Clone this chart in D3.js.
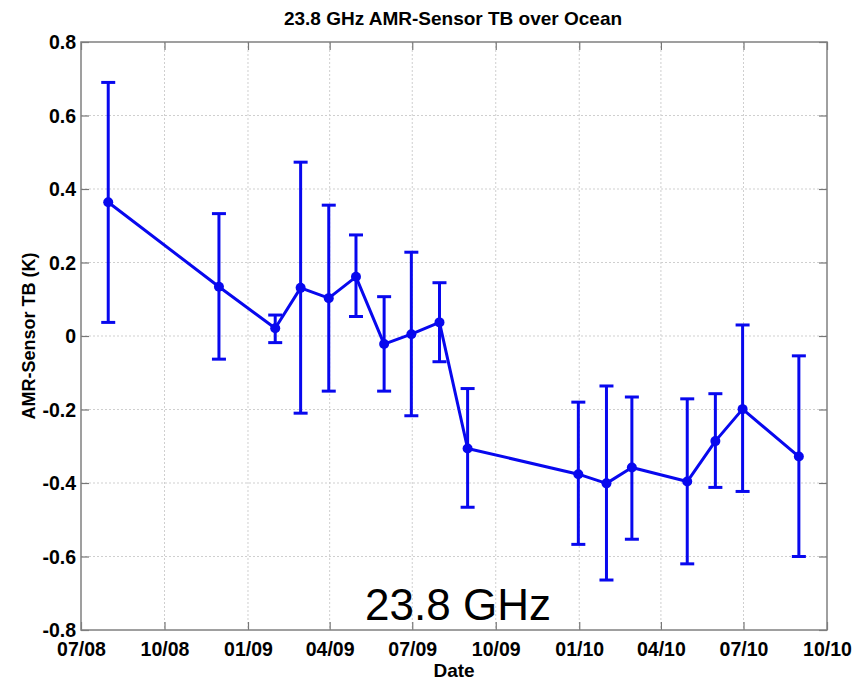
<!DOCTYPE html>
<html><head><meta charset="utf-8">
<script src="https://cdn.jsdelivr.net/npm/d3@7"></script>
<style>body{margin:0;background:#fff}svg{display:block;font-family:"Liberation Sans",Arial,Helvetica,sans-serif}</style>
</head><body>
<svg id="chart" width="852" height="683"></svg>
<script>
const dates = ["2008-07-31","2008-11-30","2009-01-31","2009-02-28","2009-03-31","2009-04-30","2009-05-31","2009-06-30","2009-07-31","2009-08-31","2009-12-31","2010-01-31","2010-02-28","2010-04-30","2010-05-31","2010-06-30","2010-08-31"];
const meanTB = [0.364,0.134,0.021,0.131,0.103,0.161,-0.022,0.005,0.037,-0.306,-0.376,-0.401,-0.358,-0.396,-0.286,-0.199,-0.328];
const upperTB = [0.690,0.333,0.057,0.473,0.356,0.275,0.107,0.228,0.145,-0.143,-0.180,-0.136,-0.166,-0.171,-0.157,0.030,-0.054];
const lowerTB = [0.037,-0.063,-0.018,-0.210,-0.150,0.053,-0.150,-0.217,-0.070,-0.466,-0.567,-0.664,-0.553,-0.620,-0.412,-0.423,-0.600];
const xTickDates = ["2008-07-01","2008-10-01","2009-01-01","2009-04-01","2009-07-01","2009-10-01","2010-01-01","2010-04-01","2010-07-01","2010-10-01"];
const yTicks = [-0.8,-0.6,-0.4,-0.2,0,0.2,0.4,0.6,0.8];
const yTickLabels = ["-0.8","-0.6","-0.4","-0.2","0","0.2","0.4","0.6","0.8"];
const titleText = "23.8 GHz AMR-Sensor TB over Ocean";
const xLabel = "Date";
const yLabel = "AMR-Sensor TB (K)";
const annotation = "23.8 GHz";

const parse = d3.utcParse("%Y-%m-%d");
const fmt = d3.utcFormat("%m/%y");
const data = dates.map((d,i)=>({t:parse(d), m:meanTB[i], hi:upperTB[i], lo:lowerTB[i]}));
const xt = xTickDates.map(parse);

const L=81, R=827, T=42, B=630;
const svg = d3.select("#chart");
const x = d3.scaleUtc().domain([xt[0], xt[xt.length-1]]).range([L,R]);
const y = d3.scaleLinear().domain([-0.8,0.8]).range([B,T]);

// grid
const g = svg.append("g");
g.selectAll(".vg").data(xt.slice(1,-1)).join("line")
  .attr("x1",d=>x(d)).attr("x2",d=>x(d)).attr("y1",T).attr("y2",B)
  .attr("stroke","#cfcfcf").attr("stroke-width",1).attr("stroke-dasharray","2,2");
g.selectAll(".hg").data(yTicks.slice(1,-1)).join("line")
  .attr("y1",d=>y(d)).attr("y2",d=>y(d)).attr("x1",L).attr("x2",R)
  .attr("stroke","#cfcfcf").attr("stroke-width",1).attr("stroke-dasharray","2,2");

const axStyle = sel => { sel.select(".domain").remove(); sel.selectAll("line").attr("stroke","#777").attr("stroke-width",1.2); };
const tickFont = sel => sel.selectAll("text").attr("font-size","19.5px").attr("font-weight","bold").attr("fill","#000").attr("font-family","Liberation Sans, Arial, sans-serif");

const xb = svg.append("g").attr("transform",`translate(0,${B})`)
  .call(d3.axisBottom(x).tickValues(xt).tickFormat(fmt).tickSizeInner(-8).tickSizeOuter(0).tickPadding(12));
axStyle(xb); tickFont(xb);
const xtop = svg.append("g").attr("transform",`translate(0,${T})`)
  .call(d3.axisTop(x).tickValues(xt).tickFormat("").tickSizeInner(-8).tickSizeOuter(0));
axStyle(xtop);
const yl = svg.append("g").attr("transform",`translate(${L},0)`)
  .call(d3.axisLeft(y).tickValues(yTicks).tickFormat((d,i)=>yTickLabels[i]).tickSizeInner(-8).tickSizeOuter(0).tickPadding(5));
axStyle(yl); tickFont(yl);
yl.selectAll("text").attr("dy","0.34em");
const yr = svg.append("g").attr("transform",`translate(${R},0)`)
  .call(d3.axisRight(y).tickValues(yTicks).tickFormat("").tickSizeInner(-8).tickSizeOuter(0));
axStyle(yr);

svg.append("rect").attr("x",L).attr("y",T).attr("width",R-L).attr("height",B-T)
  .attr("fill","none").attr("stroke","#808080").attr("stroke-width",1.5);

// error bars
const blue = "#0808ee";
const eb = svg.append("g").attr("stroke",blue).attr("stroke-width",3).attr("fill","none");
eb.selectAll(".v").data(data).join("line")
  .attr("x1",d=>x(d.t)).attr("x2",d=>x(d.t)).attr("y1",d=>y(d.hi)).attr("y2",d=>y(d.lo));
eb.selectAll(".ch").data(data).join("line")
  .attr("x1",d=>x(d.t)-7).attr("x2",d=>x(d.t)+7).attr("y1",d=>y(d.hi)).attr("y2",d=>y(d.hi));
eb.selectAll(".cl").data(data).join("line")
  .attr("x1",d=>x(d.t)-7).attr("x2",d=>x(d.t)+7).attr("y1",d=>y(d.lo)).attr("y2",d=>y(d.lo));

svg.append("path").datum(data)
  .attr("d", d3.line().x(d=>x(d.t)).y(d=>y(d.m)))
  .attr("fill","none").attr("stroke",blue).attr("stroke-width",3).attr("stroke-linejoin","round");
svg.append("g").selectAll("circle").data(data).join("circle")
  .attr("cx",d=>x(d.t)).attr("cy",d=>y(d.m)).attr("r",5).attr("fill",blue);

// texts
svg.append("text").attr("x",453).attr("y",25).attr("text-anchor","middle")
  .attr("font-size","19px").attr("font-weight","bold").text(titleText);
svg.append("text").attr("x",(L+R)/2).attr("y",677).attr("text-anchor","middle")
  .attr("font-size","19px").attr("font-weight","bold").text(xLabel);
svg.append("text").attr("transform",`translate(35,${y(0)}) rotate(-90)`).attr("text-anchor","middle")
  .attr("font-size","18px").attr("font-weight","bold").text(yLabel);
svg.append("text").attr("x",458).attr("y",620).attr("text-anchor","middle")
  .attr("font-size","44px").attr("fill","#000").text(annotation);
</script>
</body></html>
